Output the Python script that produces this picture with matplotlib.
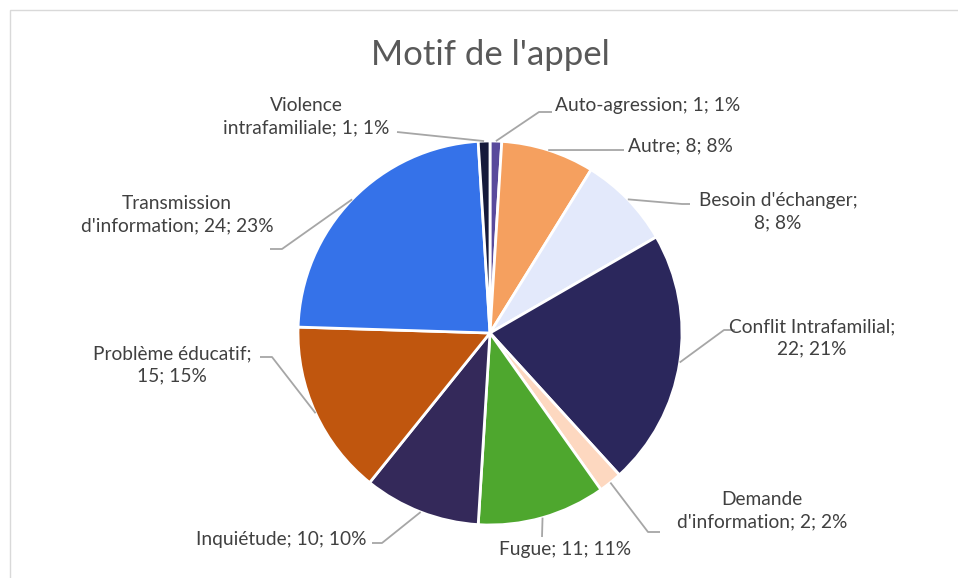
import matplotlib.pyplot as plt
from matplotlib.patches import Rectangle
import numpy as np

names = ["Auto-agression", "Autre", "Besoin d'échanger", "Conflit Intrafamilial",
         "Demande d'information", "Fugue", "Inquiétude", "Problème éducatif",
         "Transmission d'information", "Violence intrafamiliale"]
values = [1, 8, 8, 22, 2, 11, 10, 15, 24, 1]
percents = [1, 8, 8, 21, 2, 11, 10, 15, 23, 1]
colors = ["#594a9c", "#f5a05f", "#e3e9fb", "#2b275c", "#fdd8c0",
          "#4ea72e", "#34295a", "#c0560e", "#3572e9", "#161a3a"]

# 0 = one line, 1 = break inside the name, 2 = break after the name
wrap = [0, 0, 2, 2, 1, 0, 0, 2, 1, 1]

W, H = 958, 578
CX, CY, R = 490, 333, 192


def px(x, y):
    # pixel position -> pie data units
    return (x - CX) / R, (CY - y) / R


# label placement: text anchor, alignment, leader bend, leader end (pixels)
label_layout = [
    ((555, 106), "left",   (539, 112), (552, 112)),
    ((628, 146), "left",   (624, 150), (624, 150)),
    ((778, 212), "center", (682, 204), (690, 204)),
    ((812, 338), "center", (724, 330), (735, 330)),
    ((762, 511), "center", (648, 532), (660, 532)),
    ((565, 549), "center", (542, 537), (542, 537)),
    ((367, 540), "right",  (382, 543), (372, 543)),
    ((172, 365), "center", (272, 357), (260, 357)),
    ((177, 215), "center", (282, 249), (270, 249)),
    ((306, 117), "center", (397, 132), (397, 132)),
]

plt.rcParams['font.family'] = ['Lato', 'DejaVu Sans']

fig = plt.figure(figsize=(W / 100, H / 100), dpi=100)
ax = fig.add_axes([0, 0, 1, 1])

wedges, _ = ax.pie(values, colors=colors, startangle=90, counterclock=False,
                   radius=1, wedgeprops=dict(edgecolor="white", linewidth=2))

x0, y1 = px(0, 0)
x1, y0 = px(W, H)
ax.set_xlim(x0, x1)
ax.set_ylim(y0, y1)
ax.set_aspect('auto')
ax.axis('off')

total = sum(values)
for i, (name, v, p) in enumerate(zip(names, values, percents)):
    if wrap[i] == 1:
        txt = name.replace(" ", "\n", 1) + f"; {v}; {p}%"
    elif wrap[i] == 2:
        txt = f"{name};\n{v}; {p}%"
    else:
        txt = f"{name}; {v}; {p}%"

    mid = (sum(values[:i]) + v / 2) / total * 360
    ang = np.deg2rad(90 - mid)
    anchor = (np.cos(ang), np.sin(ang))

    (tx, ty), ha, bend, end = label_layout[i]
    bx, by = px(*bend)
    ex, ey = px(*end)
    ax.plot([anchor[0], bx, ex], [anchor[1], by, ey], color="#a6a6a6",
            lw=1.3, solid_capstyle="butt", zorder=3)
    ax.text(*px(tx, ty), txt, ha=ha, va="center", fontsize=13.8,
            color="#404040", linespacing=1.4, multialignment="center")

ax.text(*px(490, 55), "Motif de l'appel", ha="center", va="center",
        fontsize=25, color="#595959")

# chart frame
fig.patches.append(Rectangle((9.5 / W, -0.1), 1.1, 1.1 - 10.5 / H,
                             transform=fig.transFigure, fill=False,
                             edgecolor="#d9d9d9", lw=1))

fig.savefig("out.png", dpi=100)
